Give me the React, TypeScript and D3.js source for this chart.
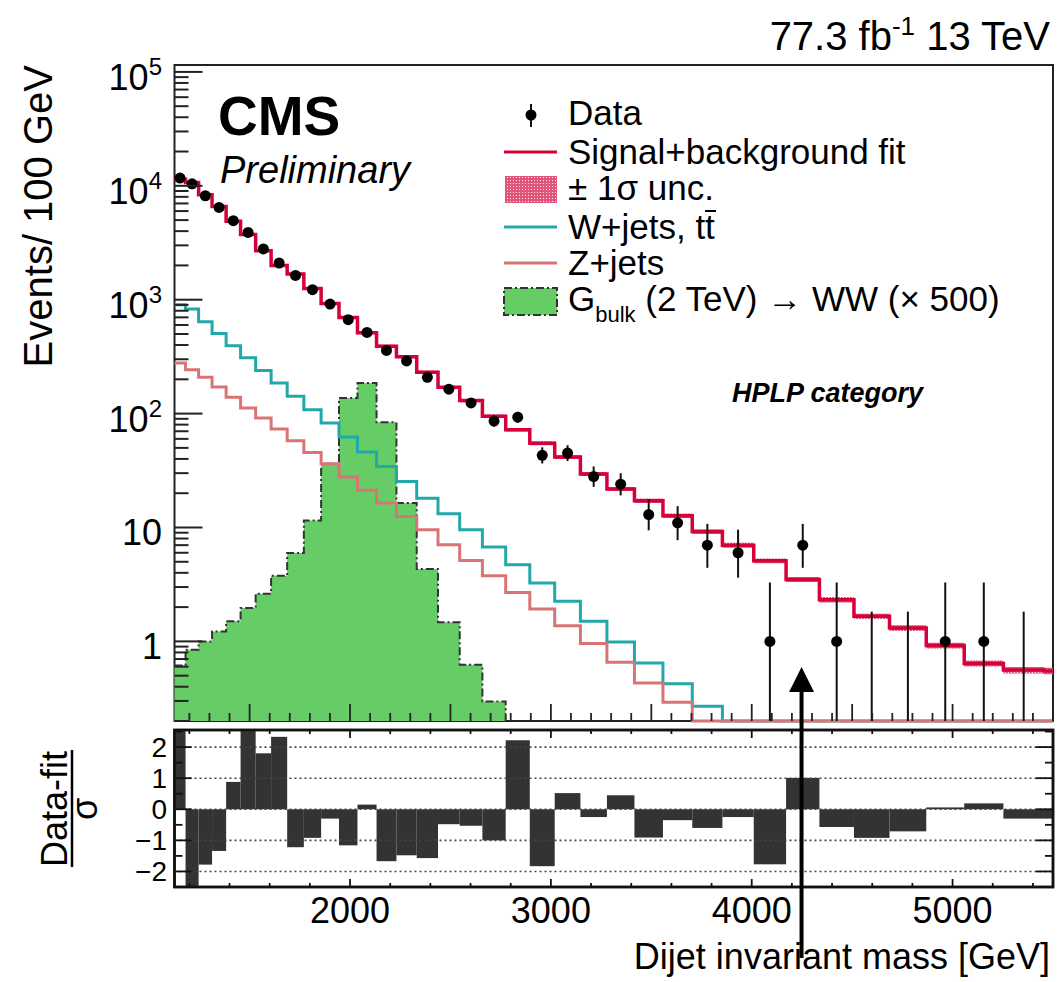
import React from 'react'
import * as d3 from 'd3'

// dijet mass bin edges (GeV), last bin cut at the plot edge
const binEdges = [1126, 1181, 1246, 1313, 1383, 1455, 1530, 1607, 1687, 1770, 1856, 1945, 2037, 2132, 2231, 2332, 2438, 2546, 2659, 2775, 2895, 3019, 3147, 3279, 3416, 3558, 3704, 3854, 4010, 4171, 4337, 4509, 4686, 4869, 5058, 5253, 5455, 5500]

const dataCounts = [11700, 10420, 8180, 6460, 4940, 3900, 2790, 2100, 1634, 1224, 916, 667, 516, 359, 290, 208, 164, 124, 86, 93, 43, 45, 28, 24, 13, 11, 7, 6, 1, 7, 1, 0, 0, 1, 1, 0]

const fitValues = [11390, 10706, 8341, 6568, 4878, 3731, 2695, 1993, 1683, 1256, 925, 697, 513, 391, 315, 231, 170, 130, 95, 72, 55, 41.5, 29.5, 21.8, 17.2, 12.7, 9.2, 7.0, 5.1, 3.5, 2.32, 1.66, 1.31, 0.92, 0.64, 0.56, 0.55]

const fitUnc = [0.02, 0.02, 0.02, 0.02, 0.02, 0.02, 0.02, 0.02, 0.025, 0.025, 0.025, 0.025, 0.03, 0.03, 0.03, 0.03, 0.03, 0.035, 0.035, 0.035, 0.04, 0.04, 0.04, 0.04, 0.045, 0.045, 0.045, 0.05, 0.05, 0.05, 0.055, 0.055, 0.06, 0.06, 0.06, 0.065, 0.065]

const wjets = [904, 828, 640, 505, 394, 310, 239, 186, 142, 108, 82.6, 62.4, 46.0, 34.4, 25.4, 18.1, 13.2, 9.57, 6.75, 4.71, 3.26, 2.25, 1.50, 0.99, 0.645, 0.425, 0.269, 0.17, 0.105, 0.065, 0.04, 0.025, 0.015, 0.009, 0.006, 0.004, 0.003]

const zjets = [278, 243, 209, 171, 139, 112, 91.5, 73.3, 57.8, 45.6, 36.3, 27.7, 21.2, 16.4, 12.5, 9.57, 7.06, 5.14, 3.77, 2.69, 1.92, 1.37, 0.96, 0.655, 0.432, 0.292, 0.19, 0.12, 0.075, 0.046, 0.028, 0.017, 0.011, 0.007, 0.004, 0.003, 0.002]

const signal = [0.615, 0.845, 1.0, 1.22, 1.5, 1.96, 2.62, 3.77, 5.97, 11.5, 36.3, 137, 186, 83.8, 16.4, 4.32, 1.47, 0.624, 0.297]

const pulls = [2.9, -2.8, -1.78, -1.34, 0.88, 2.7, 1.8, 2.33, -1.22, -0.92, -0.3, -1.16, 0.15, -1.67, -1.48, -1.57, -0.48, -0.53, -1.0, 2.22, -1.83, 0.52, -0.25, 0.45, -0.91, -0.35, -0.6, -0.25, -1.77, 1.01, -0.57, -0.92, -0.71, 0.06, 0.19, -0.3, -0.3]

const mainYTicks = [1, 10, 100, 1000, 10000, 100000]
const ratioYTicks = [2, 1, 0, -1, -2]
const xTickLabels = [2000, 3000, 4000, 5000]
const arrowMass = 4248

const FONT = "'Liberation Sans', Arial, Helvetica, sans-serif"
const RED = '#d6003a'
const TEAL = '#22a8a8'
const SALMON = '#d97474'
const GREEN = '#66cc66'

// Poisson (Garwood-like) interval, Wilson-Hilferty approximation
const poisHi = (n: number) => (n + 1) * Math.pow(1 - 1 / (9 * (n + 1)) + 1 / (3 * Math.sqrt(n + 1)), 3)
const poisLo = (n: number) => (n === 0 ? 0 : n * Math.pow(1 - 1 / (9 * n) - 1 / (3 * Math.sqrt(n)), 3))

export default function App() {
  const left = 174.5, right = 1053, top = 65, bottom = 721
  const rTop = 730, rBottom = 887

  const x = d3.scaleLinear().domain([1126, 5500]).range([left, right])
  const y = d3.scaleLog().domain([0.2, 1.15e5]).range([bottom, top])
  const yr = d3.scaleLinear().domain([-2.5, 2.55]).range([rBottom, rTop])
  const yc = (v: number) => y(Math.max(v, 0.2))

  const stepPts = (vals: number[]): [number, number][] =>
    vals.map((v, i) => [binEdges[i], v] as [number, number]).concat([[binEdges[vals.length], vals[vals.length - 1]]])

  const line = d3.line<[number, number]>().x(d => x(d[0])).y(d => yc(d[1])).curve(d3.curveStepAfter)

  const sigPts = stepPts(signal)
  const sigArea = d3.area<[number, number]>().x(d => x(d[0])).y0(bottom).y1(d => yc(d[1])).curve(d3.curveStepAfter)
  const sigOutline = line(sigPts.concat([[binEdges[signal.length], 0.2]]))

  const bandPts = fitValues.map((v, i) => [binEdges[i], v, fitUnc[i]] as [number, number, number])
  bandPts.push([binEdges[fitValues.length], fitValues[fitValues.length - 1], fitUnc[fitUnc.length - 1]])
  const band = d3.area<[number, number, number]>()
    .x(d => x(d[0])).y0(d => yc(d[1] * (1 - d[2]))).y1(d => yc(d[1] * (1 + d[2])))
    .curve(d3.curveStepAfter)

  // axis ticks
  const minorY: number[] = []
  for (let e = -1; e <= 5; e++) for (let k = 1; k <= 9; k++) {
    const v = k * Math.pow(10, e)
    if (v >= 0.2 && v <= 1.15e5) minorY.push(v)
  }
  const xMain = d3.range(1200, 5501, 100)
  const xRatio = d3.range(1200, 5501, 200)
  const rTicks = d3.range(-2.5, 2.51, 0.5)

  const legX = 568
  const legRows = [125, 164, 200, 239, 275, 311]

  return (
    <svg width={1058} height={982} style={{ position: 'absolute', left: 0, top: 0, background: '#fff' }} fontFamily={FONT}>
      <defs>
        <pattern id="unc" width="3" height="3" patternUnits="userSpaceOnUse">
          <rect width="3" height="3" fill="#e2557a" />
          <rect width="1" height="1" fill="#ffffff" opacity="0.85" />
        </pattern>
      </defs>
      <rect width={1058} height={982} fill="#fff" />

      {/* main frame */}
      <rect x={left} y={top} width={right - left} height={bottom - top} fill="none" stroke="#222" strokeWidth={2} />

      {/* signal */}
      <path d={sigArea(sigPts) || ''} fill={GREEN} />
      <path d={sigOutline || ''} fill="none" stroke="#333" strokeWidth={2} strokeDasharray="8 3 2 3" />

      {/* backgrounds */}
      <path d={line(stepPts(wjets)) || ''} fill="none" stroke={TEAL} strokeWidth={3} />
      <path d={line(stepPts(zjets)) || ''} fill="none" stroke={SALMON} strokeWidth={3} />

      {/* fit with uncertainty band */}
      <path d={band(bandPts) || ''} fill="url(#unc)" />
      <path d={line(stepPts(fitValues)) || ''} fill="none" stroke={RED} strokeWidth={3.5} />

      {/* data */}
      {dataCounts.map((n, i) => {
        const cx = x((binEdges[i] + binEdges[i + 1]) / 2)
        return (
          <g key={'d' + i}>
            <line x1={cx} x2={cx} y1={yc(poisLo(n))} y2={yc(poisHi(n))} stroke="#111" strokeWidth={2} />
            {n > 0 && <circle cx={cx} cy={y(n)} r={5.5} fill="#000" />}
          </g>
        )
      })}

      {/* main axis ticks */}
      {minorY.map((v, i) => {
        const major = mainYTicks.includes(v)
        return <line key={'my' + i} x1={left} x2={left + (major ? 28 : 14)} y1={y(v)} y2={y(v)} stroke="#222" strokeWidth={2} />
      })}
      {xMain.map(m => (
        <line key={'mx' + m} x1={x(m)} x2={x(m)} y1={bottom} y2={bottom - (m % 500 === 0 ? 17 : 8)} stroke="#222" strokeWidth={1.8} />
      ))}
      {mainYTicks.map(v => {
        const e = Math.round(Math.log10(v))
        return (
          <text key={'yl' + v} x={162} y={y(v) + 18} textAnchor="end" fontSize={36} fill="#000">
            {e <= 1 ? String(v) : <><tspan>10</tspan><tspan dy={-15} fontSize={24}>{e}</tspan></>}
          </text>
        )
      })}

      {/* ratio panel */}
      <rect x={left} y={rTop} width={right - left} height={rBottom - rTop} fill="#fff" stroke="#111" strokeWidth={2.5} />
      {pulls.map((p, i) => {
        const v = Math.max(-2.5, Math.min(2.55, p))
        const y0 = yr(0), y1 = yr(v)
        return <rect key={'p' + i} x={x(binEdges[i])} width={x(binEdges[i + 1]) - x(binEdges[i])} y={Math.min(y0, y1)} height={Math.abs(y1 - y0)} fill="#333" />
      })}
      {ratioYTicks.map(v => (
        <line key={'g' + v} x1={left} x2={right} y1={yr(v)} y2={yr(v)} stroke="#444" strokeWidth={1.6} strokeDasharray="2 3" />
      ))}
      {rTicks.map(v => {
        const len = Math.abs(v % 1) < 0.01 ? 17 : 8
        return (
          <g key={'rt' + v}>
            <line x1={left} x2={left + len} y1={yr(v)} y2={yr(v)} stroke="#111" strokeWidth={1.8} />
            <line x1={right - len} x2={right} y1={yr(v)} y2={yr(v)} stroke="#111" strokeWidth={1.8} />
          </g>
        )
      })}
      {xRatio.map(m => {
        const len = m % 1000 === 0 ? 8 : 4
        return (
          <g key={'rx' + m}>
            <line x1={x(m)} x2={x(m)} y1={rTop} y2={rTop + len} stroke="#111" strokeWidth={1.8} />
            <line x1={x(m)} x2={x(m)} y1={rBottom} y2={rBottom - len} stroke="#111" strokeWidth={1.8} />
          </g>
        )
      })}
      <rect x={left} y={rTop} width={right - left} height={rBottom - rTop} fill="none" stroke="#111" strokeWidth={2.5} />
      {ratioYTicks.map(v => (
        <text key={'rl' + v} x={167} y={yr(v) + 10} textAnchor="end" fontSize={28} fill="#000">
          {v < 0 ? '\u2212' + Math.abs(v) : String(v)}
        </text>
      ))}
      {xTickLabels.map(m => (
        <text key={'xl' + m} x={x(m)} y={923} textAnchor="middle" fontSize={36} fill="#000">{m}</text>
      ))}

      {/* arrow */}
      <line x1={x(arrowMass)} x2={x(arrowMass)} y1={690} y2={958} stroke="#000" strokeWidth={4} />
      <path d={`M${x(arrowMass)},667 L${x(arrowMass) - 12.5},692 L${x(arrowMass) + 12.5},692 Z`} fill="#000" />

      {/* titles */}
      <text transform="translate(52,65) rotate(-90)" textAnchor="end" fontSize={40} fill="#000">Events/ 100 GeV</text>
      <text transform="translate(67,809) rotate(-90)" textAnchor="middle" fontSize={36} fill="#000">Data-fit</text>
      <line x1={72} x2={72} y1={750} y2={867} stroke="#000" strokeWidth={2.5} />
      <text transform="translate(97,809) rotate(-90)" textAnchor="middle" fontSize={36} fill="#000">σ</text>
      <text x={1050} y={969} textAnchor="end" fontSize={36} fill="#000">Dijet invariant mass [GeV]</text>
      <text x={1050} y={50} textAnchor="end" fontSize={40} fill="#000">
        <tspan>77.3 fb</tspan><tspan dy={-15} fontSize={26}>-1</tspan><tspan dy={15}> 13 TeV</tspan>
      </text>
      <text x={218} y={135} fontSize={55} fontWeight="bold" fill="#000">CMS</text>
      <text x={220} y={183} fontSize={38} fontStyle="italic" fill="#000">Preliminary</text>
      <text x={732} y={402} fontSize={27} fontWeight="bold" fontStyle="italic" fill="#000">HPLP category</text>

      {/* legend */}
      <line x1={531} x2={531} y1={104} y2={127} stroke="#111" strokeWidth={2} />
      <circle cx={531} cy={115} r={5.5} fill="#000" />
      <text x={legX} y={legRows[0]} fontSize={35}>Data</text>
      <line x1={504} x2={557} y1={legRows[1] - 12} y2={legRows[1] - 12} stroke={RED} strokeWidth={3} />
      <text x={legX} y={legRows[1]} fontSize={35}>Signal+background fit</text>
      <rect x={505} y={legRows[2] - 24} width={52} height={27} fill="url(#unc)" />
      <text x={legX} y={legRows[2]} fontSize={35}>± 1σ unc.</text>
      <line x1={504} x2={557} y1={legRows[3] - 12} y2={legRows[3] - 12} stroke={TEAL} strokeWidth={3} />
      <text x={legX} y={legRows[3]} fontSize={35}>W+jets, tt</text>
      <line x1={705} x2={716} y1={legRows[3] - 28} y2={legRows[3] - 28} stroke="#000" strokeWidth={2} />
      <line x1={504} x2={557} y1={legRows[4] - 12} y2={legRows[4] - 12} stroke={SALMON} strokeWidth={3} />
      <text x={legX} y={legRows[4]} fontSize={35}>Z+jets</text>
      <rect x={504} y={legRows[5] - 23} width={53} height={27} fill={GREEN} stroke="#333" strokeWidth={2} strokeDasharray="8 3 2 3" />
      <text x={legX} y={legRows[5]} fontSize={35}>
        <tspan>G</tspan><tspan dy={11} fontSize={22}>bulk</tspan><tspan dy={-11}> (2 TeV) → WW (× 500)</tspan>
      </text>
    </svg>
  )
}
